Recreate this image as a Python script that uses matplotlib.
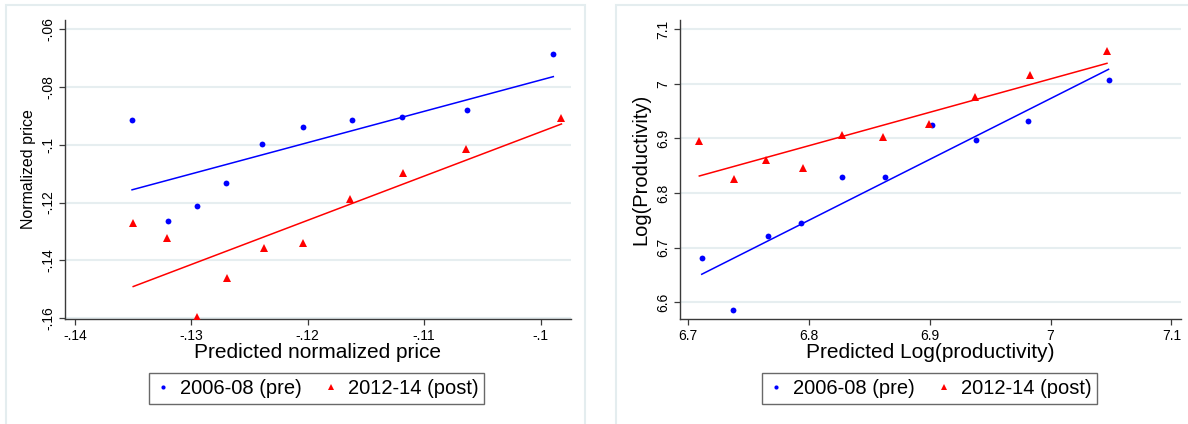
import numpy as np
import matplotlib
matplotlib.use("Agg")
import matplotlib.pyplot as plt
from matplotlib.patches import Rectangle
from matplotlib.lines import Line2D

plt.rcParams['font.family'] = ['Liberation Sans', 'DejaVu Sans']

# ---- Panel 1: normalized price ----
price_pre_x = [-0.1351, -0.1320, -0.1295, -0.1270, -0.1239, -0.1204, -0.1162, -0.1119, -0.1063, -0.0989]
price_pre_y = [-0.0913, -0.1264, -0.1213, -0.1132, -0.0996, -0.0939, -0.0915, -0.0904, -0.0881, -0.0687]
price_post_x = [-0.1350, -0.1321, -0.1295, -0.1269, -0.1238, -0.1204, -0.1164, -0.1118, -0.1064, -0.0982]
price_post_y = [-0.1271, -0.1323, -0.1597, -0.1463, -0.1359, -0.1339, -0.1188, -0.1099, -0.1016, -0.0909]
# fitted lines (values at the ends of each series' x range)
price_pre_fit = [-0.1156, -0.0764]
price_post_fit = [-0.1491, -0.0928]
price_xticks = [-0.14, -0.13, -0.12, -0.11, -0.10]
price_xticklabels = ['-.14', '-.13', '-.12', '-.11', '-.1']
price_yticks = [-0.16, -0.14, -0.12, -0.10, -0.08, -0.06]
price_yticklabels = ['-.16', '-.14', '-.12', '-.1', '-.08', '-.06']

# ---- Panel 2: log productivity ----
prod_pre_x = [6.7111, 6.7370, 6.7658, 6.7936, 6.8276, 6.8632, 6.9017, 6.9384, 6.9817, 7.0480]
prod_pre_y = [6.682, 6.586, 6.721, 6.745, 6.829, 6.829, 6.924, 6.897, 6.931, 7.007]
prod_post_x = [6.7091, 6.7376, 6.7644, 6.7948, 6.8273, 6.8616, 6.8994, 6.9378, 6.9829, 7.0467]
prod_post_y = [6.8947, 6.8258, 6.8605, 6.8464, 6.9068, 6.9026, 6.9269, 6.9762, 7.0165, 7.0592]
prod_pre_fit = [6.6516, 7.0263]
prod_post_fit = [6.8313, 7.0373]
prod_xticks = [6.7, 6.8, 6.9, 7.0, 7.1]
prod_xticklabels = ['6.7', '6.8', '6.9', '7', '7.1']
prod_yticks = [6.6, 6.7, 6.8, 6.9, 7.0, 7.1]
prod_yticklabels = ['6.6', '6.7', '6.8', '6.9', '7', '7.1']

series_labels = ['2006-08 (pre)', '2012-14 (post)']

BLUE = '#0000ff'
RED = '#ff0000'
GRID = '#e6eef0'
FRAME = '#e4edef'
SPINE = '#3a3a3a'

W, H = 1188, 424
fig = plt.figure(figsize=(W / 100, H / 100), dpi=100)


def px_rect(x0, y0, x1, y1):
    return [x0 / W, 1 - y1 / H, (x1 - x0) / W, (y1 - y0) / H]


# light outer frames for each graph region
for (x0, x1) in [(6, 585), (616, 1192)]:
    fig.patches.append(Rectangle((x0 / W, -0.05), (x1 - x0) / W, 1 - 4.5 / H + 0.05,
                                 transform=fig.transFigure, fill=False,
                                 edgecolor=FRAME, linewidth=1.5))


def panel(rect, prex, prey, postx, posty, prefit, postfit, xlim, ylim,
          xticks, xtl, yticks, ytl, xlabel, ylabel, ylabel_size, legend_rect):
    ax = fig.add_axes(px_rect(*rect))
    ax.set_xlim(*xlim)
    ax.set_ylim(*ylim)
    for s in ['top', 'right']:
        ax.spines[s].set_visible(False)
    for s in ['left', 'bottom']:
        ax.spines[s].set_color(SPINE)
        ax.spines[s].set_linewidth(1.0)
    ax.set_yticks(yticks)
    ax.set_yticklabels(ytl, rotation=90, va='center', fontsize=10)
    ax.set_xticks(xticks)
    ax.set_xticklabels(xtl, fontsize=10)
    ax.tick_params(axis='both', direction='out', length=4, width=0.9, color=SPINE, pad=3)
    ax.yaxis.grid(True, color=GRID, linewidth=1.5)
    ax.set_axisbelow(True)

    for xs, fit, c in [(prex, prefit, BLUE), (postx, postfit, RED)]:
        ax.plot([min(xs), max(xs)], fit, color=c, linewidth=1.1, zorder=2)
    ax.plot(prex, prey, 'o', color=BLUE, markersize=4.2, markeredgewidth=0, zorder=3)
    ax.plot(postx, posty, '^', color=RED, markersize=6, markeredgewidth=0, zorder=3)

    ax.set_xlabel(xlabel, fontsize=15, labelpad=0)
    ax.set_ylabel(ylabel, fontsize=ylabel_size, labelpad=4)

    handles = [Line2D([], [], marker='o', color=BLUE, linestyle='none', markersize=3, markeredgewidth=0),
               Line2D([], [], marker='^', color=RED, linestyle='none', markersize=4.5, markeredgewidth=0)]
    lx0, ly0, lx1, ly1 = legend_rect
    leg = fig.legend(handles, series_labels, loc='center',
                     bbox_to_anchor=((lx0 + lx1) / 2 / W, 1 - (ly0 + ly1) / 2 / H),
                     ncol=2, fontsize=14.5, frameon=True, fancybox=False,
                     edgecolor='#444444', handlelength=0.8, handletextpad=0.45,
                     columnspacing=1.05, borderpad=0.3, borderaxespad=0)
    leg.get_frame().set_linewidth(1.0)
    return ax


panel((65, 20, 571, 319), price_pre_x, price_pre_y, price_post_x, price_post_y,
      price_pre_fit, price_post_fit,
      (-0.14086, -0.09738), (-0.16034, -0.05679),
      price_xticks, price_xticklabels, price_yticks, price_yticklabels,
      'Predicted normalized price', 'Normalized price', 11.5, (150, 373, 483, 404))

panel((680, 20, 1181, 319), prod_pre_x, prod_pre_y, prod_post_x, prod_post_y,
      prod_pre_fit, prod_post_fit,
      (6.6931, 7.1080), (6.5698, 7.1165),
      prod_xticks, prod_xticklabels, prod_yticks, prod_yticklabels,
      'Predicted Log(productivity)', 'Log(Productivity)', 14.5, (763, 373, 1096, 404))

fig.savefig('out.png', dpi=100, facecolor='white')
